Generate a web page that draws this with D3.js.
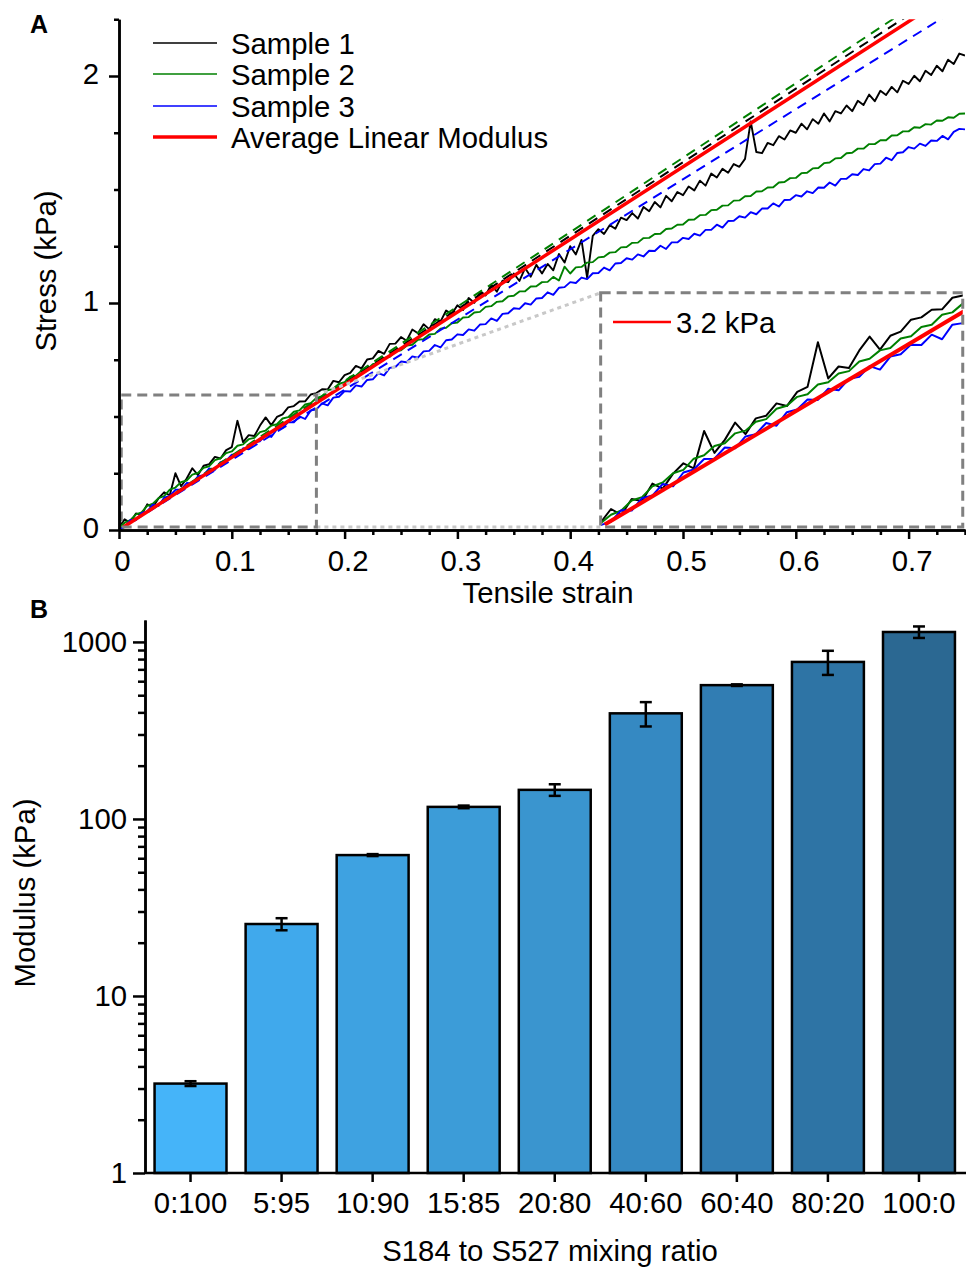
<!DOCTYPE html>
<html lang="en">
<head>
<meta charset="utf-8">
<script src="https://d3js.org/d3.v7.min.js"></script>
<style>
body { margin: 0; background: #fff; }
svg text { font-family: "Liberation Sans", Arial, sans-serif; fill: #000; }
.axis path, .axis line { stroke: #000; stroke-width: 2.5px; }
.axis text { font-size: 29.3px; }
</style>
</head>
<body>
<svg id="fig" width="966" height="1268"></svg>
<script>
// ---- panel A data: stress (kPa) ----
var strain = [0, 0.005, 0.01, 0.015, 0.02, 0.025, 0.03, 0.035, 0.04, 0.045,
  0.05, 0.055, 0.06, 0.065, 0.07, 0.075, 0.08, 0.085, 0.09, 0.095,
  0.1, 0.105, 0.11, 0.115, 0.12, 0.125, 0.13, 0.135, 0.14, 0.145,
  0.15, 0.155, 0.16, 0.165, 0.17, 0.175, 0.18, 0.185, 0.19, 0.195,
  0.2, 0.205, 0.21, 0.215, 0.22, 0.225, 0.23, 0.235, 0.24, 0.245,
  0.25, 0.255, 0.26, 0.265, 0.27, 0.275, 0.28, 0.285, 0.29, 0.295,
  0.3, 0.305, 0.31, 0.315, 0.32, 0.325, 0.33, 0.335, 0.34, 0.345,
  0.35, 0.355, 0.36, 0.365, 0.37, 0.375, 0.38, 0.385, 0.39, 0.395,
  0.4, 0.405, 0.41, 0.415, 0.42, 0.425, 0.43, 0.435, 0.44, 0.445,
  0.45, 0.455, 0.46, 0.465, 0.47, 0.475, 0.48, 0.485, 0.49, 0.495,
  0.5, 0.505, 0.51, 0.515, 0.52, 0.525, 0.53, 0.535, 0.54, 0.545,
  0.55, 0.555, 0.56, 0.565, 0.57, 0.575, 0.58, 0.585, 0.59, 0.595,
  0.6, 0.605, 0.61, 0.615, 0.62, 0.625, 0.63, 0.635, 0.64, 0.645,
  0.65, 0.655, 0.66, 0.665, 0.67, 0.675, 0.68, 0.685, 0.69, 0.695,
  0.7, 0.705, 0.71, 0.715, 0.72, 0.725, 0.73, 0.735, 0.74, 0.745, 0.75];

var sample1 = [0.012, 0.047, 0.032, 0.073, 0.068, 0.113, 0.100, 0.139, 0.166, 0.153,
  0.250, 0.193, 0.227, 0.272, 0.242, 0.283, 0.290, 0.322, 0.315, 0.352,
  0.365, 0.481, 0.387, 0.418, 0.414, 0.460, 0.496, 0.462, 0.498, 0.509,
  0.540, 0.546, 0.566, 0.567, 0.597, 0.603, 0.620, 0.619, 0.657, 0.651,
  0.682, 0.692, 0.723, 0.712, 0.751, 0.756, 0.789, 0.776, 0.820, 0.821,
  0.850, 0.834, 0.883, 0.867, 0.906, 0.885, 0.929, 0.918, 0.967, 0.951,
  0.990, 0.969, 1.022, 1.001, 1.049, 1.033, 1.081, 1.050, 1.098, 1.092,
  1.130, 1.097, 1.154, 1.116, 1.168, 1.130, 1.172, 1.144, 1.216, 1.178,
  1.250, 1.214, 1.278, 1.112, 1.296, 1.325, 1.304, 1.343, 1.327, 1.376,
  1.365, 1.396, 1.372, 1.423, 1.404, 1.445, 1.421, 1.472, 1.448, 1.489,
  1.475, 1.513, 1.496, 1.539, 1.517, 1.570, 1.553, 1.591, 1.574, 1.612,
  1.600, 1.635, 1.800, 1.665, 1.660, 1.705, 1.695, 1.735, 1.720, 1.760,
  1.750, 1.790, 1.765, 1.810, 1.790, 1.835, 1.800, 1.845, 1.835, 1.870,
  1.845, 1.891, 1.872, 1.918, 1.889, 1.935, 1.916, 1.952, 1.928, 1.979,
  1.965, 2.001, 1.977, 2.023, 2.004, 2.045, 2.021, 2.072, 2.053, 2.099, 2.090];

var sample2 = [0.010, 0.032, 0.043, 0.069, 0.078, 0.106, 0.116, 0.140, 0.149, 0.178,
  0.187, 0.211, 0.218, 0.244, 0.251, 0.274, 0.281, 0.308, 0.316, 0.339,
  0.346, 0.371, 0.377, 0.400, 0.406, 0.431, 0.438, 0.460, 0.466, 0.491,
  0.497, 0.521, 0.527, 0.553, 0.559, 0.582, 0.588, 0.615, 0.622, 0.645,
  0.651, 0.675, 0.680, 0.702, 0.707, 0.731, 0.737, 0.758, 0.763, 0.787,
  0.792, 0.812, 0.816, 0.838, 0.841, 0.861, 0.864, 0.887, 0.891, 0.911,
  0.914, 0.936, 0.938, 0.958, 0.961, 0.983, 0.986, 1.005, 1.008, 1.029,
  1.032, 1.051, 1.052, 1.073, 1.074, 1.092, 1.093, 1.115, 1.099, 1.160,
  1.130, 1.157, 1.159, 1.178, 1.180, 1.201, 1.204, 1.222, 1.224, 1.245,
  1.247, 1.265, 1.266, 1.286, 1.287, 1.304, 1.305, 1.326, 1.328, 1.345,
  1.346, 1.367, 1.368, 1.387, 1.388, 1.409, 1.411, 1.429, 1.430, 1.451,
  1.452, 1.470, 1.471, 1.491, 1.492, 1.509, 1.510, 1.531, 1.533, 1.550,
  1.551, 1.572, 1.574, 1.593, 1.595, 1.616, 1.619, 1.637, 1.639, 1.660,
  1.662, 1.680, 1.680, 1.700, 1.700, 1.717, 1.717, 1.738, 1.739, 1.756,
  1.756, 1.774, 1.772, 1.788, 1.786, 1.804, 1.803, 1.818, 1.816, 1.834, 1.835];

var sample3 = [0.005, 0.014, 0.044, 0.043, 0.075, 0.082, 0.112, 0.106, 0.142, 0.150,
  0.177, 0.178, 0.207, 0.205, 0.236, 0.242, 0.271, 0.264, 0.299, 0.306,
  0.332, 0.331, 0.360, 0.356, 0.386, 0.391, 0.419, 0.410, 0.444, 0.450,
  0.475, 0.474, 0.501, 0.489, 0.527, 0.531, 0.558, 0.549, 0.583, 0.587,
  0.612, 0.610, 0.637, 0.632, 0.661, 0.664, 0.691, 0.681, 0.714, 0.718,
  0.742, 0.739, 0.765, 0.759, 0.787, 0.789, 0.815, 0.804, 0.836, 0.839,
  0.862, 0.859, 0.884, 0.878, 0.905, 0.907, 0.932, 0.921, 0.952, 0.955,
  0.977, 0.974, 0.999, 0.993, 1.020, 1.022, 1.047, 1.036, 1.067, 1.070,
  1.092, 1.088, 1.112, 1.105, 1.131, 1.132, 1.156, 1.144, 1.174, 1.176,
  1.197, 1.191, 1.214, 1.205, 1.230, 1.229, 1.252, 1.238, 1.267, 1.267,
  1.287, 1.282, 1.305, 1.297, 1.322, 1.322, 1.345, 1.332, 1.361, 1.362,
  1.382, 1.376, 1.400, 1.391, 1.416, 1.416, 1.439, 1.425, 1.454, 1.455,
  1.475, 1.469, 1.492, 1.484, 1.509, 1.508, 1.531, 1.517, 1.547, 1.547,
  1.567, 1.564, 1.590, 1.584, 1.612, 1.614, 1.640, 1.629, 1.661, 1.664,
  1.687, 1.680, 1.702, 1.692, 1.716, 1.714, 1.736, 1.721, 1.754, 1.767, 1.765];

var sampleNames = ["Sample 1", "Sample 2", "Sample 3"];
var sampleColors = ["#000000", "#008000", "#0000ff"];
var sampleModulus = [3.24, 3.28, 3.09];   // dashed linear fits, kPa
var averageModulus = 3.2;
var strainTicks = [0, 0.1, 0.2, 0.3, 0.4, 0.5, 0.6, 0.7];
var stressTicks = [0, 1, 2];

// ---- panel B data ----
var ratios = ["0:100", "5:95", "10:90", "15:85", "20:80", "40:60", "60:40", "80:20", "100:0"];
var modulus = [3.2, 25.5, 62.5, 117, 146, 395, 570, 771, 1138];
var modulusErr = [0.1, 2, 0.8, 2, 11, 62, 6, 120, 85];
var barColors = ["#45b4f9", "#40a9ec", "#3ea2e1", "#3c9cd8", "#3a95cf", "#3589c2", "#317db3", "#2e74a5", "#2b6892"];
var modulusTicks = [1, 10, 100, 1000];

var FS = 29.3;
var svg = d3.select("#fig");
svg.append("rect").attr("width", 966).attr("height", 1268).attr("fill", "#fff");

// =================== PANEL A ===================
var x = d3.scaleLinear().domain([0, 0.75]).range([119, 965]);
var y = d3.scaleLinear().domain([0, 2.25]).range([530, 19.25]);

var samples = [sample1, sample2, sample3].map(function(arr) {
  return strain.map(function(s, i) { return [s, arr[i]]; });
});

var defs = svg.append("defs");
defs.append("clipPath").attr("id", "clipA").append("rect")
  .attr("x", x(0)).attr("y", y(2.25)).attr("width", x(0.75) - x(0)).attr("height", y(0) - y(2.25));

var plotA = svg.append("g").attr("clip-path", "url(#clipA)");
var line = d3.line().x(function(d) { return x(d[0]); }).y(function(d) { return y(d[1]); });

// measured curves
samples.forEach(function(pts, i) {
  plotA.append("path").datum(pts)
    .attr("d", line).attr("fill", "none")
    .attr("stroke", sampleColors[i]).attr("stroke-width", 1.9)
    .attr("stroke-linejoin", "round");
});

// dashed linear fits
sampleModulus.forEach(function(E, i) {
  plotA.append("path").datum([[0, 0], [0.75, E * 0.75]])
    .attr("d", line).attr("fill", "none")
    .attr("stroke", sampleColors[i]).attr("stroke-width", 2)
    .attr("stroke-dasharray", "10,7");
});

// average modulus
plotA.append("path").datum([[0.004, averageModulus * 0.004], [0.75, averageModulus * 0.75]])
  .attr("d", line).attr("fill", "none").attr("stroke", "#ff0000").attr("stroke-width", 3.5);

// zoom box + inset
var zoomBox = {s0: 0.002, s1: 0.175, p0: 0.013, p1: 0.595};
var insetBox = {s0: 0.427, s1: 0.748, p0: 0.013, p1: 1.045};

[[zoomBox.p1, insetBox.p1], [zoomBox.p0, insetBox.p0]].forEach(function(p) {
  svg.append("line")
    .attr("x1", x(zoomBox.s1)).attr("y1", y(p[0])).attr("x2", x(insetBox.s0)).attr("y2", y(p[1]))
    .attr("stroke", "#c8c8c8").attr("stroke-width", 3).attr("stroke-dasharray", "4,4");
});

var xi = d3.scaleLinear().domain([0, 0.175]).range([x(insetBox.s0), x(insetBox.s1)]);
var yi = d3.scaleLinear().domain([0, 0.61]).range([y(insetBox.p0), y(insetBox.p1)]);
defs.append("clipPath").attr("id", "clipInset").append("rect")
  .attr("x", x(insetBox.s0)).attr("y", y(insetBox.p1))
  .attr("width", x(insetBox.s1) - x(insetBox.s0)).attr("height", y(insetBox.p0) - y(insetBox.p1));
var inset = svg.append("g").attr("clip-path", "url(#clipInset)");
var lineInset = d3.line().x(function(d) { return xi(d[0]); }).y(function(d) { return yi(d[1]); });
samples.forEach(function(pts, i) {
  inset.append("path").datum(pts.filter(function(d) { return d[0] <= 0.18; }))
    .attr("d", lineInset).attr("fill", "none")
    .attr("stroke", sampleColors[i]).attr("stroke-width", 2)
    .attr("stroke-linejoin", "round");
});
inset.append("path").datum([[0.002, averageModulus * 0.002], [0.18, averageModulus * 0.18]])
  .attr("d", lineInset).attr("fill", "none").attr("stroke", "#ff0000").attr("stroke-width", 4);

[zoomBox, insetBox].forEach(function(b) {
  svg.append("rect")
    .attr("x", x(b.s0)).attr("y", y(b.p1))
    .attr("width", x(b.s1) - x(b.s0)).attr("height", y(b.p0) - y(b.p1))
    .attr("fill", "none").attr("stroke", "#808080").attr("stroke-width", 3)
    .attr("stroke-dasharray", "10,6");
});

// inset legend
svg.append("line").attr("x1", 613).attr("x2", 671).attr("y1", 322).attr("y2", 322)
  .attr("stroke", "#ff0000").attr("stroke-width", 2.5);
svg.append("text").attr("x", 676).attr("y", 333).attr("font-size", FS).text("3.2 kPa");

// axes A
var minorStrain = d3.range(0, 0.7501, 0.025).filter(function(v) { return Math.abs(v * 10 - Math.round(v * 10)) > 1e-6; });
var minorStress = d3.range(0, 2.2501, 0.25).filter(function(v) { return Math.abs(v - Math.round(v)) > 1e-6; });

svg.append("g").attr("class", "axis").attr("transform", "translate(0," + y(0) + ")")
  .call(d3.axisBottom(x).tickValues(minorStrain).tickSize(5).tickSizeOuter(0).tickFormat(""));
svg.append("g").attr("class", "axis").attr("transform", "translate(0," + y(0) + ")")
  .call(d3.axisBottom(x).tickValues(strainTicks).tickSize(9).tickPadding(11).tickSizeOuter(0)
    .tickFormat(d3.format("~g")))
  .selectAll("text").attr("dx", 3);
svg.append("g").attr("class", "axis").attr("transform", "translate(" + x(0) + ",0)")
  .call(d3.axisLeft(y).tickValues(minorStress).tickSize(5).tickSizeOuter(0).tickFormat(""));
svg.append("g").attr("class", "axis").attr("transform", "translate(" + x(0) + ",0)")
  .call(d3.axisLeft(y).tickValues(stressTicks).tickSize(10).tickPadding(10).tickSizeOuter(0)
    .tickFormat(d3.format("d")))
  .selectAll("text").attr("dy", "0.25em");

svg.append("text").attr("x", 548).attr("y", 603).attr("text-anchor", "middle")
  .attr("font-size", FS).text("Tensile strain");
svg.append("text").attr("transform", "translate(56,271) rotate(-90)").attr("text-anchor", "middle")
  .attr("font-size", FS).text("Stress (kPa)");

// legend A
var legendItems = sampleNames.map(function(n, i) { return {name: n, color: sampleColors[i], w: 1.6}; });
legendItems.push({name: "Average Linear Modulus", color: "#ff0000", w: 3.5});
var legendY = [43, 74, 106, 137];
legendItems.forEach(function(d, i) {
  svg.append("line").attr("x1", 153).attr("x2", 217).attr("y1", legendY[i]).attr("y2", legendY[i])
    .attr("stroke", d.color).attr("stroke-width", d.w);
  svg.append("text").attr("x", 231).attr("y", legendY[i] + 11).attr("font-size", FS).text(d.name);
});

svg.append("text").attr("x", 30).attr("y", 33).attr("font-size", 25).attr("font-weight", "bold").text("A");

// =================== PANEL B ===================
var xb = d3.scaleBand().domain(ratios).range([145, 964.5]).paddingInner(0.21).paddingOuter(0.105);
var yb = d3.scaleLog().domain([1, 1330]).range([1173, 620]);

svg.append("g").selectAll("rect").data(ratios).enter().append("rect")
  .attr("x", function(d) { return xb(d); })
  .attr("y", function(d, i) { return yb(modulus[i]); })
  .attr("width", xb.bandwidth())
  .attr("height", function(d, i) { return yb(1) - yb(modulus[i]); })
  .attr("fill", function(d, i) { return barColors[i]; })
  .attr("stroke", "#000").attr("stroke-width", 2.5);

var errG = svg.append("g").attr("stroke", "#000").attr("stroke-width", 2.5);
ratios.forEach(function(r, i) {
  var cx = xb(r) + xb.bandwidth() / 2;
  var hi = yb(modulus[i] + modulusErr[i]), lo = yb(modulus[i] - modulusErr[i]);
  errG.append("line").attr("x1", cx).attr("x2", cx).attr("y1", hi).attr("y2", lo);
  errG.append("line").attr("x1", cx - 6).attr("x2", cx + 6).attr("y1", hi).attr("y2", hi);
  errG.append("line").attr("x1", cx - 6).attr("x2", cx + 6).attr("y1", lo).attr("y2", lo);
});

var minorMod = [];
modulusTicks.forEach(function(dec) {
  [2, 3, 4, 5, 6, 7, 8, 9].forEach(function(m) { if (dec * m <= 1330) minorMod.push(dec * m); });
});

svg.append("g").attr("class", "axis").attr("transform", "translate(145,0)")
  .call(d3.axisLeft(yb).tickValues(minorMod).tickSize(7).tickSizeOuter(0).tickFormat(""));
svg.append("g").attr("class", "axis").attr("transform", "translate(145,0)")
  .call(d3.axisLeft(yb).tickValues(modulusTicks).tickSize(12).tickPadding(6).tickSizeOuter(0)
    .tickFormat(d3.format("d")));
var xAxisB = svg.append("g").attr("class", "axis").attr("transform", "translate(0," + yb(1) + ")")
  .call(d3.axisBottom(xb).tickSize(9).tickPadding(10).tickSizeOuter(0));
xAxisB.select("path.domain").attr("d", "M145,0H966");

svg.append("text").attr("x", 550).attr("y", 1261).attr("text-anchor", "middle")
  .attr("font-size", FS).text("S184 to S527 mixing ratio");
svg.append("text").attr("transform", "translate(35,893) rotate(-90)").attr("text-anchor", "middle")
  .attr("font-size", FS).text("Modulus (kPa)");

svg.append("text").attr("x", 30).attr("y", 618).attr("font-size", 25).attr("font-weight", "bold").text("B");
</script>
</body>
</html>
